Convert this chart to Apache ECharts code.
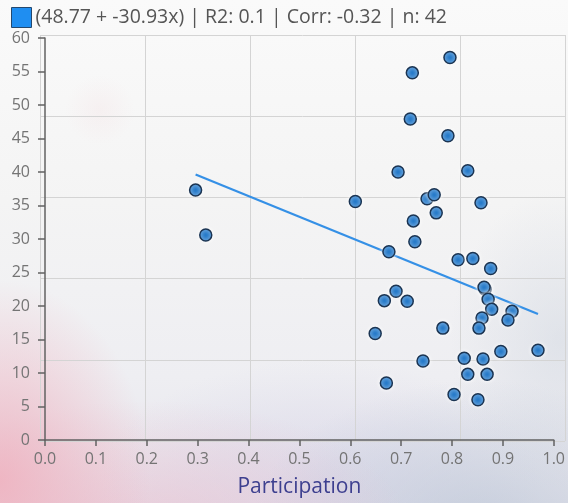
<!DOCTYPE html>
<html>
<head>
<meta charset="utf-8">
<script src="https://cdn.jsdelivr.net/npm/echarts@6/dist/echarts.min.js"></script>
<style>
  html, body { margin: 0; padding: 0; }
  body {
    width: 568px; height: 503px; overflow: hidden;
    background:
      radial-gradient(ellipse 150px 200px at 0px 480px, rgba(240,172,186,0.8), rgba(240,172,186,0) 100%),
      radial-gradient(ellipse 260px 130px at 150px 530px, rgba(236,188,204,0.6), rgba(236,188,204,0) 100%),
      radial-gradient(ellipse 230px 150px at 480px 530px, rgba(182,195,212,0.65), rgba(182,195,212,0) 100%),
      radial-gradient(ellipse 110px 150px at 560px 340px, rgba(205,212,222,0.45), rgba(205,212,222,0) 100%),
      radial-gradient(ellipse 220px 120px at 320px 480px, rgba(214,212,232,0.6), rgba(214,212,232,0) 100%),
      radial-gradient(ellipse 35px 35px at 100px 110px, rgba(240,200,205,0.15), rgba(240,200,205,0) 100%),
      linear-gradient(to bottom, #fafafa 0%, #f4f4f4 40%, #eeeef2 75%, #e6e4ec 100%);
  }
  #chart { width: 568px; height: 503px; }
</style>
</head>
<body>
<div id="chart"></div>
<script>
// Participation vs. value, 42 observations
const participation = [0.296, 0.316, 0.610, 0.722, 0.796, 0.718, 0.792, 0.694, 0.831, 0.751,
  0.765, 0.769, 0.857, 0.724, 0.727, 0.676, 0.812, 0.841, 0.876, 0.865,
  0.863, 0.871, 0.878, 0.918, 0.910, 0.859, 0.853, 0.690, 0.667, 0.712,
  0.649, 0.782, 0.969, 0.896, 0.824, 0.861, 0.743, 0.831, 0.869, 0.671,
  0.804, 0.851];
const values = [37.3, 30.6, 35.6, 54.8, 57.1, 47.9, 45.4, 40.0, 40.2, 36.0,
  36.6, 33.9, 35.4, 32.7, 29.6, 28.1, 26.9, 27.1, 25.6, 22.5,
  22.8, 21.0, 19.5, 19.2, 17.9, 18.2, 16.7, 22.2, 20.8, 20.7,
  15.9, 16.7, 13.4, 13.2, 12.2, 12.1, 11.8, 9.8, 9.8, 8.5,
  6.8, 6.0];

// Fitted line and statistics shown in the legend
const intercept = 48.77;
const slope = -30.93;
const r2 = 0.1;
const corr = -0.32;

const xTicks = [0, 1, 0.1];   // min, max, step
const yTicks = [0, 60, 5];

const points = participation.map((x, i) => [x, values[i]]);
const xMin = Math.min(...participation);
const xMax = Math.max(...participation);
const fitLine = [xMin, xMax].map(x => [x, intercept + slope * x]);
const legendText = '(' + intercept + ' + ' + slope + 'x) | R2: ' + r2 +
  ' | Corr: ' + corr + ' | n: ' + points.length;

const font = '"Open Sans", "Noto Sans", sans-serif';
const chart = echarts.init(document.getElementById('chart'), null, { renderer: 'canvas' });

chart.setOption({
  backgroundColor: 'transparent',
  animation: false,
  legend: {
    left: 6, top: 2,
    itemWidth: 20, itemHeight: 20, itemGap: 10,
    textStyle: { fontFamily: font, fontSize: 19.5, color: '#555', padding: [0, 0, 0, -1] },
    data: [{
      name: legendText, icon: 'rect',
      itemStyle: { color: '#1f8ef1', borderColor: '#24486e', borderWidth: 1 }
    }]
  },
  grid: [
    { left: 45, right: 13, top: 38, bottom: 62 },
    { left: 40, right: 3, top: 35, bottom: 62 }
  ],
  xAxis: [{
    type: 'value', gridIndex: 0,
    min: xTicks[0], max: xTicks[1], interval: xTicks[2],
    offset: 1,
    name: 'Participation', nameLocation: 'middle', nameGap: 36,
    nameTextStyle: { fontFamily: font, fontSize: 21, color: '#3d3f8f' },
    axisLine: { show: true, lineStyle: { color: '#626262', width: 1.5 } },
    axisTick: { show: true, length: 6, lineStyle: { color: '#626262', width: 1.5 } },
    axisLabel: { fontFamily: font, fontSize: 16, color: '#747474', margin: 10,
      formatter: v => v.toFixed(1) },
    splitLine: { show: false }
  }, {
    type: 'value', gridIndex: 1, min: 0, max: 5, interval: 1,
    axisLine: { show: false }, axisTick: { show: false }, axisLabel: { show: false },
    splitLine: { show: true, lineStyle: { color: '#d4d4d4', width: 1 } }
  }],
  yAxis: [{
    type: 'value', gridIndex: 0,
    min: yTicks[0], max: yTicks[1], interval: yTicks[2],
    offset: 3,
    axisLine: { show: true, lineStyle: { color: '#626262', width: 1.5 } },
    axisTick: { show: true, length: 7, lineStyle: { color: '#626262', width: 1.5 } },
    axisLabel: { fontFamily: font, fontSize: 16, color: '#747474', margin: 12 },
    splitLine: { show: false }
  }, {
    type: 'value', gridIndex: 1, min: 0, max: 5, interval: 1,
    axisLine: { show: false }, axisTick: { show: false }, axisLabel: { show: false },
    splitLine: { show: true, lineStyle: { color: '#d4d4d4', width: 1 } }
  }],
  series: [{
    name: legendText,
    type: 'line',
    xAxisIndex: 0, yAxisIndex: 0,
    data: fitLine,
    showSymbol: false,
    lineStyle: { color: '#3590e6', width: 2.2 },
    z: 3
  }, {
    name: 'points',
    type: 'scatter',
    xAxisIndex: 0, yAxisIndex: 0,
    data: points,
    symbolSize: 12,
    itemStyle: {
      color: '#1f76c8', borderColor: '#1b3452', borderWidth: 1.5, opacity: 1,
      shadowBlur: 4, shadowColor: 'rgba(255,255,255,0.9)'
    },
    z: 4
  }]
});
</script>
</body>
</html>
